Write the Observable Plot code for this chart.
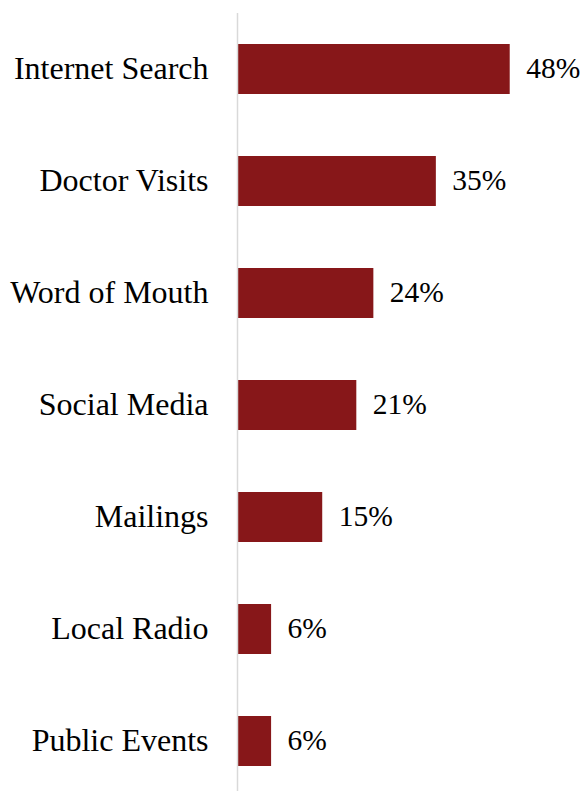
<!DOCTYPE html>
<html>
<head>
<meta charset="utf-8">
<script src="https://cdn.jsdelivr.net/npm/d3@7"></script>
<script src="https://cdn.jsdelivr.net/npm/@observablehq/plot@0.6"></script>
<style>
  html, body { margin: 0; padding: 0; background: #ffffff; }
  #chart svg { display: block; }
</style>
</head>
<body>
<div id="chart"></div>
<script>
// Where people hear about the service (share of respondents, %)
const sources = ["Internet Search", "Doctor Visits", "Word of Mouth", "Social Media", "Mailings", "Local Radio", "Public Events"];
const shares = [48, 35, 24, 21, 15, 6, 6];

const rows = sources.map((source, i) => ({source, share: shares[i]}));

const barColor = "#871719";
const serif = "Liberation Serif, Times New Roman, serif";

const chart = Plot.plot({
  width: 583,
  height: 791,
  marginLeft: 237,
  marginRight: 0,
  marginTop: 13,
  marginBottom: 0,
  style: {background: "#ffffff"},
  x: {domain: [0, 60.9], axis: null},
  y: {domain: sources, range: [32.5, 778], paddingInner: 0.558, paddingOuter: 0.1, axis: null},
  marks: [
    Plot.barX(rows, {y: "source", x: "share", fill: barColor}),
    Plot.ruleX([0], {stroke: "#d9d9d9", strokeWidth: 1.5}),
    // category names to the left of the baseline
    Plot.text(rows, {
      y: "source", x: 0, text: "source", fontFamily: serif,
      textAnchor: "end", dx: -29, dy: -0.5, fontSize: 32, fill: "#000000"
    }),
    // value labels just past each bar's end
    Plot.text(rows, {
      y: "source", x: "share", text: d => `${d.share}%`, fontFamily: serif,
      textAnchor: "start", dx: 16, dy: -0.5, fontSize: 29.5, fill: "#000000"
    })
  ]
});

document.getElementById("chart").append(chart);
</script>
</body>
</html>
